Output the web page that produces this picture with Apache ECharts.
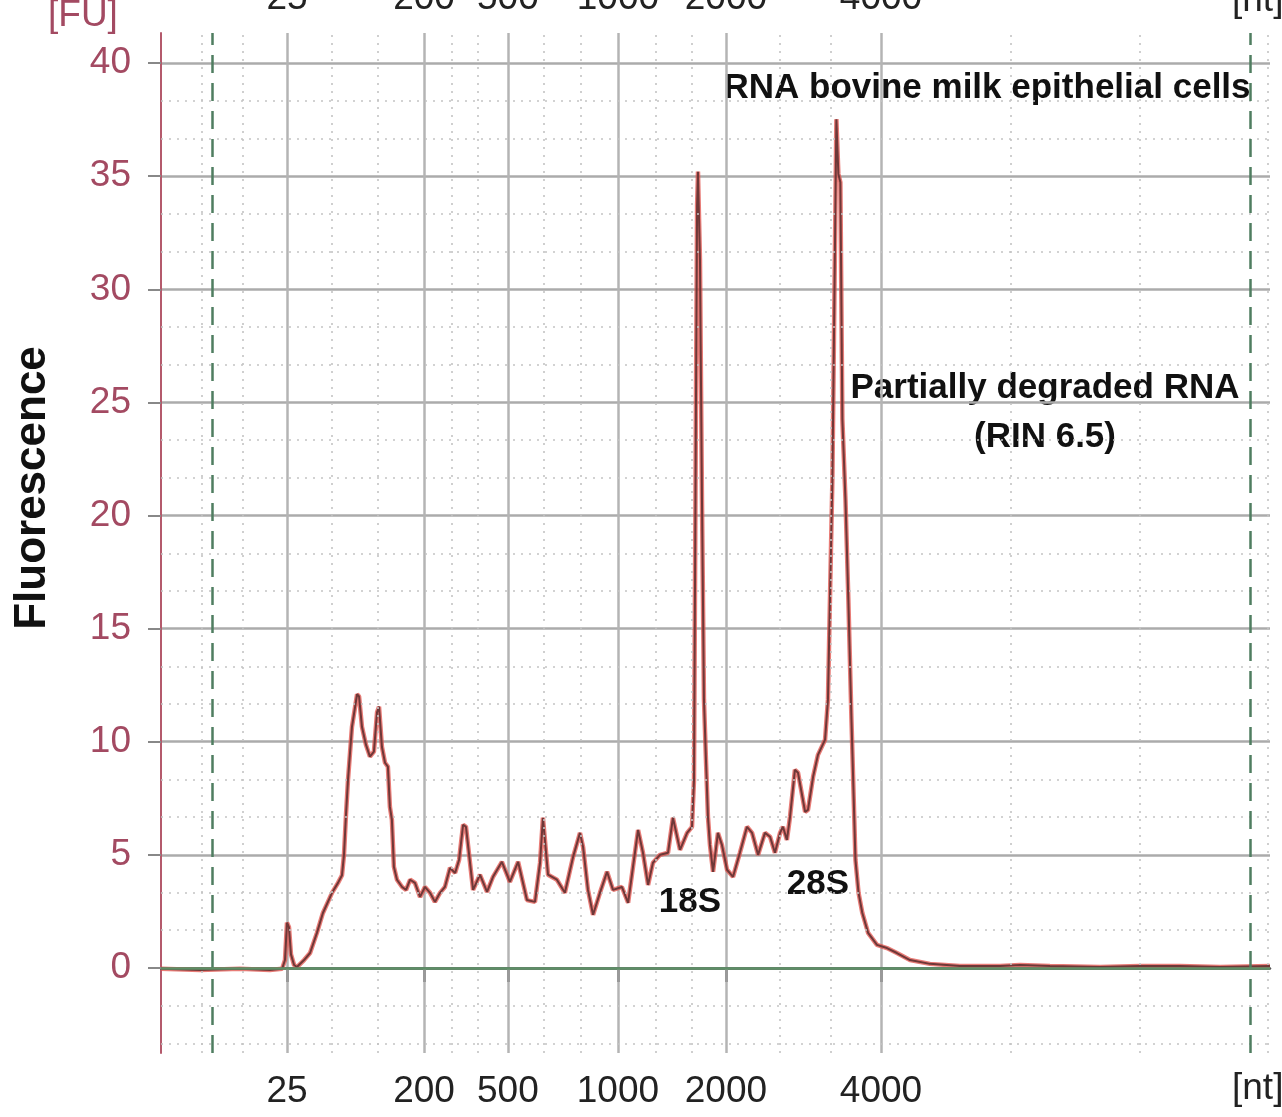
<!DOCTYPE html>
<html>
<head>
<meta charset="utf-8">
<title>RNA bovine milk epithelial cells</title>
<script src="https://cdn.jsdelivr.net/npm/echarts@6/dist/echarts.min.js"></script>
<style>
  html, body { margin: 0; padding: 0; background: #fff; }
  #chart { width: 1282px; height: 1117px; }
</style>
</head>
<body>
<div id="chart"></div>
<script>
// ladder sizes and where they sit on the migration time axis (s)
const ladderSizes = ['25', '200', '500', '1000', '2000', '4000']
const ladderTime = [24.68, 30.86, 34.64, 39.60, 44.47, 51.46]
const markerTime = [21.30, 68.10]
const minorTime = [20.85, 22.70, 26.71, 28.78, 32.12, 33.29, 36.27, 37.94, 41.32, 42.94, 46.91, 49.21, 57.32, 63.14, 68.91]

const fuTicks = [0, 5, 10, 15, 20, 25, 30, 35, 40]
const fuMinor = [-3.33, -1.67, 1.67, 3.33, 6.67, 8.33, 11.67, 13.33, 16.67, 18.33, 21.67, 23.33,
  26.67, 28.33, 31.67, 33.33, 36.67, 38.33]

// electropherogram trace
const timeSec = [
  19.00, 20.76, 22.56, 23.91, 24.46, 24.59, 24.68, 24.77, 24.86, 25.00,
  25.13, 25.45, 25.72, 26.03, 26.30, 26.71, 26.98, 27.16, 27.25, 27.34,
  27.43, 27.61, 27.84, 27.93, 28.06, 28.24, 28.42, 28.60, 28.74, 28.83,
  28.96, 29.10, 29.23, 29.32, 29.41, 29.50, 29.64, 29.87, 30.05, 30.23,
  30.45, 30.68, 30.90, 31.13, 31.35, 31.58, 31.80, 32.03, 32.26, 32.44,
  32.62, 32.75, 33.07, 33.38, 33.70, 33.97, 34.37, 34.73, 35.10, 35.50,
  35.86, 36.09, 36.22, 36.45, 36.85, 37.21, 37.58, 37.89, 38.03, 38.25,
  38.48, 38.79, 39.11, 39.38, 39.78, 40.06, 40.28, 40.51, 40.73, 40.96,
  41.18, 41.50, 41.86, 42.08, 42.40, 42.72, 42.94, 43.03, 43.12, 43.17,
  43.21, 43.30, 43.39, 43.48, 43.57, 43.66, 43.75, 43.89, 44.11, 44.29,
  44.52, 44.79, 45.10, 45.42, 45.65, 45.92, 46.23, 46.46, 46.68, 46.91,
  47.04, 47.22, 47.36, 47.58, 47.72, 48.04, 48.17, 48.40, 48.62, 48.94,
  49.07, 49.16, 49.27, 49.36, 49.45, 49.54, 49.63, 49.72, 49.86, 49.99,
  50.13, 50.31, 50.45, 50.62, 50.88, 51.28, 51.73, 52.18, 52.77, 53.67,
  55.02, 56.83, 57.73, 59.08, 61.34, 63.14, 64.94, 66.75, 69.00
]
const fluorescence = [
  -0.04, -0.09, -0.04, -0.09, -0.04, 0.35, 2.0, 1.8, 0.6, 0.13,
  0.04, 0.35, 0.66, 1.55, 2.43, 3.32, 3.76, 4.1, 5.0, 6.77,
  8.3, 10.66, 12.1, 12.0, 10.66, 9.87, 9.34, 9.56, 11.3, 11.55,
  9.78, 9.07, 8.9, 7.12, 6.55, 4.47, 3.9, 3.58, 3.45, 3.9,
  3.76, 3.14, 3.58, 3.32, 2.92, 3.32, 3.58, 4.42, 4.2, 4.78,
  6.33, 6.24, 3.45, 4.12, 3.36, 4.03, 4.69, 3.8, 4.69, 3.0,
  2.92, 4.65, 6.64, 4.12, 3.9, 3.32, 4.91, 5.97, 5.35, 3.45,
  2.35, 3.32, 4.25, 3.45, 3.58, 2.88, 4.47, 6.1, 5.09, 3.67,
  4.65, 5.0, 5.09, 6.64, 5.22, 5.97, 6.24, 8.3, 25.1, 33.7,
  35.2, 31.3, 20.7, 11.86, 9.2, 6.68, 5.44, 4.25, 5.97, 5.44,
  4.34, 4.03, 5.09, 6.24, 5.97, 5.0, 5.97, 5.8, 5.09, 5.97,
  6.24, 5.66, 6.68, 8.76, 8.63, 6.9, 6.99, 8.45, 9.42, 10.09,
  11.86, 16.28, 21.6, 29.56, 37.52, 35.1, 34.73, 24.25, 20.7, 16.28,
  10.97, 4.78, 3.32, 2.43, 1.55, 1.02, 0.88, 0.66, 0.35, 0.18,
  0.09, 0.09, 0.13, 0.09, 0.04, 0.09, 0.09, 0.04, 0.09
]

const trace = timeSec.map((t, i) => [t, fluorescence[i]])
const fontFamily = '"Liberation Sans", Arial, Helvetica, sans-serif'
const maroon = '#a34a62'

function ladderLabel(v) {
  let best = 0
  ladderTime.forEach((t, i) => {
    if (Math.abs(t - v) < Math.abs(ladderTime[best] - v)) best = i
  })
  return ladderSizes[best]
}

const chart = echarts.init(document.getElementById('chart'), null, { renderer: 'canvas' })

const gridLines = [
  ...minorTime.map(t => ({ xAxis: t, lineStyle: { color: '#c4c4c4', type: [2, 6], width: 1.6 } })),
  ...fuMinor.map(v => ({ yAxis: v, lineStyle: { color: '#c4c4c4', type: [2, 6], width: 1.6 } })),
  ...markerTime.map(t => ({ xAxis: t, lineStyle: { color: '#4f7d60', type: [18, 10], width: 2.5 } })),
  { yAxis: 0, lineStyle: { color: '#5d8f66', type: 'solid', width: 2.5 } }
]

const boldText = 'bold 35px ' + fontFamily

chart.setOption({
  animation: false,
  backgroundColor: '#fff',
  grid: { left: 161, right: 12, top: 33, bottom: 64, outerBoundsMode: 'none', containLabel: false },
  xAxis: [{
    type: 'value',
    min: 19,
    max: 69,
    position: 'bottom',
    axisLine: { lineStyle: { color: '#555', width: 2.5 } },
    axisTick: { customValues: ladderTime, length: 14, lineStyle: { color: '#999', width: 3 } },
    axisLabel: {
      customValues: ladderTime,
      formatter: ladderLabel,
      color: '#222',
      fontSize: 37,
      fontFamily,
      margin: 20
    },
    splitLine: { show: true, lineStyle: { color: '#b4b4b4', width: 2.5 } }
  }, {
    type: 'value',
    min: 19,
    max: 69,
    position: 'top',
    axisLine: { show: false },
    axisTick: { show: false },
    axisLabel: {
      customValues: ladderTime,
      formatter: ladderLabel,
      color: '#222',
      fontSize: 37,
      fontFamily,
      margin: 16
    },
    splitLine: { show: false }
  }],
  yAxis: {
    type: 'value',
    min: -3.76,
    max: 41.33,
    axisLine: { show: true, lineStyle: { color: '#b45a6c', width: 2 } },
    axisTick: { customValues: fuTicks, length: 13, lineStyle: { color: '#888', width: 2 } },
    axisLabel: {
      customValues: fuTicks,
      color: maroon,
      fontSize: 37,
      fontFamily,
      margin: 30
    },
    splitLine: { show: true, lineStyle: { color: '#ababab', width: 2.5 } }
  },
  series: [{
    name: 'grid',
    type: 'line',
    data: [],
    z: 1,
    silent: true,
    markLine: {
      silent: true,
      symbol: ['none', 'none'],
      label: { show: false },
      emphasis: { disabled: true },
      data: gridLines
    }
  }, {
    name: 'trace glow',
    type: 'line',
    data: trace,
    z: 3,
    showSymbol: false,
    silent: true,
    lineStyle: { color: '#e0504a', width: 4.5, opacity: 0.75 }
  }, {
    name: 'trace',
    type: 'line',
    data: trace,
    z: 4,
    showSymbol: false,
    silent: true,
    lineStyle: { color: '#6e3838', width: 2 }
  }],
  graphic: [
    { type: 'text', left: 48, top: -3, style: { text: '[FU]', fill: maroon, font: '37px ' + fontFamily } },
    { type: 'text', left: 1232, top: -18, style: { text: '[nt]', fill: '#222', font: '37px ' + fontFamily } },
    { type: 'text', left: 1232, top: 1070, style: { text: '[nt]', fill: '#222', font: '37px ' + fontFamily } },
    { type: 'text', x: 33, y: 488, rotation: Math.PI / 2, style: { text: 'Fluorescence', fill: '#111', font: 'bold 44px ' + fontFamily, align: 'center', verticalAlign: 'middle' } },
    { type: 'text', x: 987, y: 88, style: { text: 'RNA bovine milk epithelial cells', fill: '#111', font: boldText, align: 'center', verticalAlign: 'middle' } },
    { type: 'text', x: 1045, y: 388, style: { text: 'Partially degraded RNA', fill: '#111', font: boldText, align: 'center', verticalAlign: 'middle' } },
    { type: 'text', x: 1045, y: 437, style: { text: '(RIN 6.5)', fill: '#111', font: boldText, align: 'center', verticalAlign: 'middle' } },
    { type: 'text', x: 690, y: 902, style: { text: '18S', fill: '#111', font: boldText, align: 'center', verticalAlign: 'middle' } },
    { type: 'text', x: 818, y: 884, style: { text: '28S', fill: '#111', font: boldText, align: 'center', verticalAlign: 'middle' } }
  ]
})

window.addEventListener('resize', () => chart.resize())
</script>
</body>
</html>
